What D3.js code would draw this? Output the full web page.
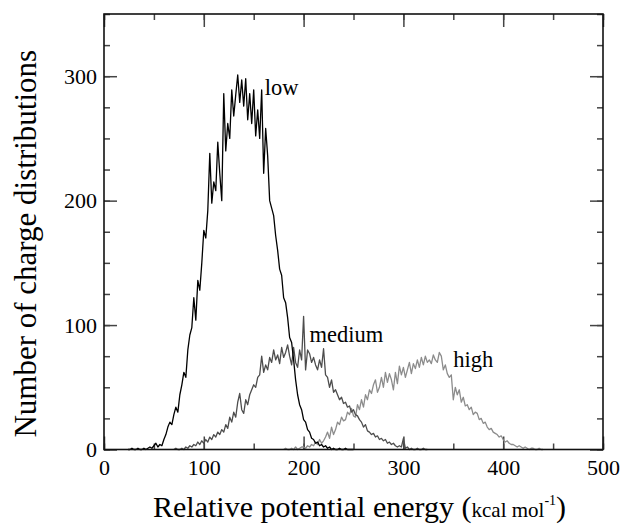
<!DOCTYPE html>
<html>
<head>
<meta charset="utf-8">
<script src="https://cdn.jsdelivr.net/npm/d3@7"></script>
<style>
  html, body { margin: 0; padding: 0; background: #fff; }
  svg { display: block; }
  text { font-family: "Liberation Serif", "Times New Roman", serif; fill: #000; }
</style>
</head>
<body>
<svg id="chart" width="623" height="524"></svg>
<script>
// ---------- data (energy in kcal/mol, count) ----------
const xTicks = [0, 100, 200, 300, 400, 500];
const yTicks = [0, 100, 200, 300];
const seriesNames = ["low", "medium", "high"];

const lowSeries = [
  [24,0],[26,0],[28,1],[30,0],[32,0],[34,1],[36,0],[38,0],[40,1],[42,0],[44,1],[46,2],[48,1],[50,3],
  [52,5],[54,2],[56,4],[58,3],[60,8],[62,12],[64,18],[66,22],[68,20],[70,28],[72,34],[74,30],[76,44],
  [78,52],[80,62],[82,58],[84,80],[86,92],[88,98],[90,122],[92,104],[94,136],[96,128],[98,150],[100,176],
  [102,170],[104,192],[106,238],[108,198],[110,215],[112,208],[114,247],[116,222],[118,200],[120,286],
  [122,240],[124,262],[126,250],[128,289],[130,268],[132,285],[134,301],[136,279],[138,297],[140,276],
  [142,298],[144,265],[146,286],[148,262],[150,289],[152,252],[154,273],[156,250],[158,289],[160,222],
  [162,258],[164,236],[166,200],[168,194],[170,188],[172,172],[174,160],[176,145],[178,140],[180,122],
  [182,118],[184,106],[186,90],[188,86],[190,72],[192,56],[194,44],[196,36],[198,32],[200,24],[202,22],
  [204,16],[206,14],[208,9],[210,8],[212,5],[214,6],[216,3],[218,4],[220,2],[222,3],[224,1],[226,2],
  [228,0],[230,1],[232,0],[234,0],[236,1],[238,0],[240,0],[242,1],[244,0],[246,0],[248,0],[250,0]
];

const mediumSeries = [
  [70,0],[72,1],[74,0],[76,0],[78,1],[80,0],[82,2],[84,1],[86,3],[88,2],[90,4],[92,3],[94,6],[96,4],
  [98,7],[100,5],[102,8],[104,6],[106,10],[108,8],[110,12],[112,10],[114,14],[116,12],[118,16],[120,14],
  [122,20],[124,17],[126,26],[128,22],[130,30],[132,26],[134,38],[136,45],[138,32],[140,29],[142,40],
  [144,36],[146,44],[148,48],[150,52],[152,50],[154,58],[156,60],[158,75],[160,62],[162,68],[164,64],
  [166,74],[168,70],[170,80],[172,72],[174,76],[176,69],[178,82],[180,74],[182,78],[184,84],[186,75],
  [188,68],[190,82],[192,70],[194,66],[196,80],[198,72],[200,107],[202,64],[204,80],[206,77],[208,70],
  [210,74],[212,68],[214,64],[216,72],[218,66],[220,81],[222,60],[224,58],[226,50],[228,56],[230,46],
  [232,48],[234,44],[236,40],[238,42],[240,37],[242,38],[244,34],[246,35],[248,30],[250,32],[252,28],
  [254,27],[256,24],[258,22],[260,18],[262,20],[264,15],[266,14],[268,12],[270,13],[272,10],[274,11],
  [276,8],[278,9],[280,7],[282,8],[284,5],[286,6],[288,4],[290,5],[292,3],[294,2],[296,3],[298,2],
  [300,9],[302,1],[304,2],[306,0],[308,1],[310,0],[312,0],[314,1],[316,0],[318,0],[320,1],[322,0],[324,0]
];

const highSeries = [
  [180,0],[182,1],[184,0],[186,0],[188,1],[190,0],[192,2],[194,0],[196,1],[198,2],[200,2],[202,1],
  [204,3],[206,2],[208,4],[210,3],[212,6],[214,4],[216,8],[218,5],[220,7],[222,10],[224,14],[226,9],
  [228,18],[230,12],[232,16],[234,22],[236,20],[238,26],[240,23],[242,24],[244,30],[246,28],[248,33],
  [250,27],[252,26],[254,36],[256,32],[258,40],[260,34],[262,44],[264,40],[266,48],[268,45],[270,52],
  [272,56],[274,46],[276,50],[278,58],[280,50],[282,62],[284,54],[286,61],[288,56],[290,48],[292,62],
  [294,53],[296,67],[298,60],[300,66],[302,58],[304,64],[306,70],[308,61],[310,69],[312,65],[314,72],
  [316,66],[318,74],[320,68],[322,75],[324,70],[326,72],[328,69],[330,76],[332,72],[334,70],[336,78],
  [338,75],[340,64],[342,68],[344,61],[346,58],[348,60],[350,40],[352,50],[354,44],[356,48],[358,38],
  [360,42],[362,35],[364,36],[366,32],[368,34],[370,28],[372,30],[374,29],[376,24],[378,25],[380,21],
  [382,22],[384,18],[386,16],[388,17],[390,14],[392,13],[394,12],[396,10],[398,11],[400,8],[402,6],
  [404,7],[406,5],[408,4],[410,4],[412,3],[414,2],[416,3],[418,2],[420,1],[422,2],[424,1],[426,0],
  [428,1],[430,1],[432,0],[434,0],[436,1],[438,0],[440,0]
];

// ---------- layout ----------
const svg = d3.select("#chart");
const L = 104, R = 603, T = 14, B = 449.5;
const x = d3.scaleLinear().domain([0, 500]).range([L, R]);
const y = d3.scaleLinear().domain([0, 350]).range([B, T]);

const tickColor = "#444";
const fontTick = 22;

const xMinor = d3.range(0, 501, 50);
const yMinor = d3.range(0, 351, 25);

function styleAxis(g) {
  g.select(".domain").remove();
  g.selectAll(".tick line").attr("stroke", tickColor).attr("stroke-width", 1.5);
  g.selectAll(".tick text").attr("font-size", fontTick).attr("fill", "#000");
}

// bottom
svg.append("g").attr("transform", `translate(0,${B})`)
  .call(d3.axisBottom(x).tickValues(xMinor).tickSize(-6).tickFormat(""))
  .call(styleAxis);
svg.append("g").attr("transform", `translate(0,${B})`)
  .call(d3.axisBottom(x).tickValues(xTicks).tickSize(-13).tickPadding(10).tickFormat(d3.format("d")))
  .call(styleAxis);
// top
svg.append("g").attr("transform", `translate(0,${T})`)
  .call(d3.axisTop(x).tickValues(xMinor).tickSize(-6).tickFormat(""))
  .call(styleAxis);
svg.append("g").attr("transform", `translate(0,${T})`)
  .call(d3.axisTop(x).tickValues(xTicks).tickSize(-13).tickFormat(""))
  .call(styleAxis);
// left
svg.append("g").attr("transform", `translate(${L},0)`)
  .call(d3.axisLeft(y).tickValues(yMinor).tickSize(-6).tickFormat(""))
  .call(styleAxis);
svg.append("g").attr("transform", `translate(${L},0)`)
  .call(d3.axisLeft(y).tickValues(yTicks).tickSize(-13).tickPadding(7).tickFormat(d3.format("d")))
  .call(styleAxis);
// right
svg.append("g").attr("transform", `translate(${R},0)`)
  .call(d3.axisRight(y).tickValues(yMinor).tickSize(-6).tickFormat(""))
  .call(styleAxis);
svg.append("g").attr("transform", `translate(${R},0)`)
  .call(d3.axisRight(y).tickValues(yTicks).tickSize(-13).tickFormat(""))
  .call(styleAxis);

// lines
const line = d3.line().x(d => x(d[0])).y(d => y(d[1]));
const seriesData = [lowSeries, mediumSeries, highSeries];
const seriesColors = ["#000000", "#4d4d4d", "#8c8c8c"];
const order = [2, 1, 0];
svg.append("g").selectAll("path").data(order).join("path")
  .attr("d", i => line(seriesData[i]))
  .attr("fill", "none")
  .attr("stroke", i => seriesColors[i])
  .attr("stroke-width", 1.3)
  .attr("stroke-linejoin", "round");

// frame
svg.append("rect").attr("x", L).attr("y", T).attr("width", R - L).attr("height", B - T)
  .attr("fill", "none").attr("stroke", "#111").attr("stroke-width", 1.6);

// series labels
const labelPos = [[161, 285], [206, 86], [350, 66]]; // data coords
svg.append("g").selectAll("text").data(seriesNames).join("text")
  .attr("x", (d, i) => x(labelPos[i][0]))
  .attr("y", (d, i) => y(labelPos[i][1]))
  .attr("font-size", 22.5)
  .text(d => d);

// axis titles
svg.append("text")
  .attr("transform", `translate(36,${(T + B) / 2 + 12}) rotate(-90)`)
  .attr("text-anchor", "middle")
  .attr("font-size", 31)
  .text("Number of charge distributions");

const xt = svg.append("text").attr("x", 153).attr("y", 517).attr("font-size", 30);
xt.append("tspan").text("Relative potential energy (");
xt.append("tspan").attr("font-size", 21).text("kcal mol");
xt.append("tspan").attr("font-size", 14).attr("dy", -12).text("-1");
xt.append("tspan").attr("dy", 12).text(")");
</script>
</body>
</html>
